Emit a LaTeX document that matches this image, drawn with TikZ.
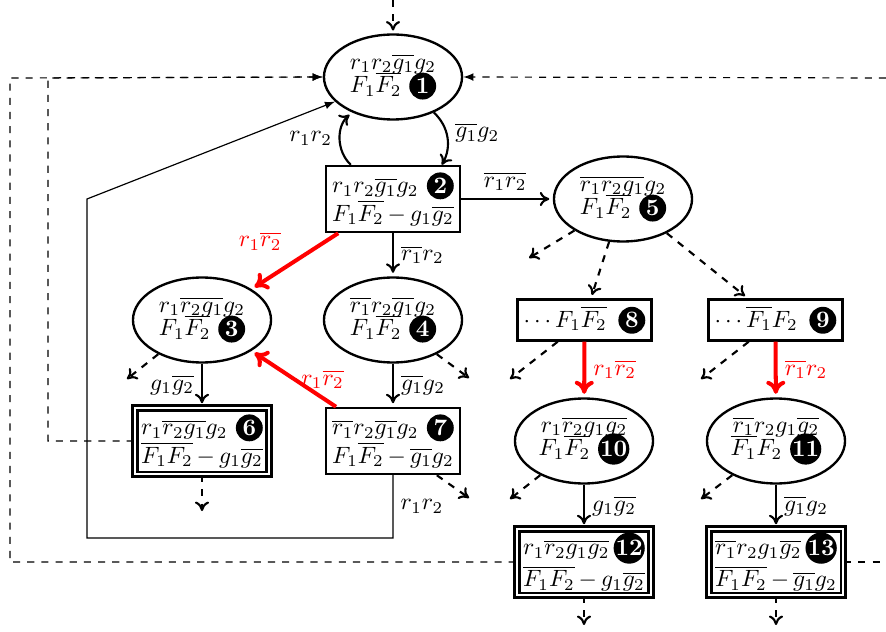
\documentclass[tikz,border=0pt]{standalone}
\usepackage{amsmath}
\usepackage{amssymb}
\usetikzlibrary{arrows.meta,shapes.geometric}
\newcommand{\badge}[1]{\tikz[baseline=-2.9pt]\node[circle,fill=black,text=white,inner sep=0pt,minimum size=11.4pt,font=\bfseries] (b#1) {#1};}
\tikzset{
  ellnode/.style={ellipse,draw,line width=1pt,inner sep=0pt,minimum width=58.5pt,minimum height=36pt,align=center},
  boxnode/.style={rectangle,draw,line width=1pt,inner sep=0pt,minimum width=56.8pt,minimum height=28pt,text width=51.5pt,align=left},
  dblnode/.style={boxnode,double,double distance=1pt},
  arr/.style={-{Computer Modern Rightarrow[length=4pt,width=6pt]},line width=0.9pt,shorten >=1.5pt},
  redarr/.style={-{Computer Modern Rightarrow[length=5.5pt,width=8pt]},line width=1.7pt,red,shorten >=1.5pt},
  dasharr/.style={arr,dashed,shorten >=0pt},
  thinline/.style={line width=0.5pt},
  backarr/.style={thinline,-latex,dashed},
  lbl/.style={inner sep=3pt}
}
\begin{document}
\begin{tikzpicture}[x=0.4237pt,y=-0.4237pt]
  \useasboundingbox (0,0) rectangle (886,632);
  % states
  \node[ellnode] (n1) at (393,77) {$r_1r_2\overline{g_1}g_2$\\[-2pt]$F_1\overline{F_2}$ \badge{1}};
  \node[boxnode] (n2) at (393,199) {$r_1r_2\overline{g_1}g_2$\hfill\badge{2}\\$F_1\overline{F_2}-g_1\overline{g_2}$};
  \node[ellnode] (n3) at (202,320) {$r_1\overline{r_2g_1}g_2$\\[-2pt]$F_1\overline{F_2}$ \badge{3}};
  \node[ellnode] (n4) at (393,320) {$\overline{r_1}r_2\overline{g_1}g_2$\\[-2pt]$F_1\overline{F_2}$ \badge{4}};
  \node[ellnode] (n5) at (623,199) {$\overline{r_1r_2g_1}g_2$\\[-2pt]$F_1\overline{F_2}$ \badge{5}};
  \node[dblnode] (n6) at (202,441) {$r_1\overline{r_2g_1}g_2$\hfill\badge{6}\\$\overline{F_1F_2}-g_1\overline{g_2}$};
  \node[boxnode] (n7) at (393,441) {$\overline{r_1}r_2\overline{g_1}g_2$\hfill\badge{7}\\$F_1\overline{F_2}-\overline{g_1}g_2$};
  \node[boxnode,minimum height=17.4pt] (n8) at (584.5,320) {$\cdots F_1\overline{F_2}$\hfill\badge{8}};
  \node[boxnode,minimum height=17.4pt] (n9) at (775.5,320) {$\cdots\overline{F_1}F_2$\hfill\badge{9}};
  \node[ellnode] (n10) at (584,441) {$r_1\overline{r_2g_1g_2}$\\[-2pt]$F_1\overline{F_2}$ \badge{10}};
  \node[ellnode] (n11) at (776,441) {$\overline{r_1}r_2g_1\overline{g_2}$\\[-2pt]$\overline{F_1}F_2$ \badge{11}};
  \node[dblnode] (n12) at (584,562) {$r_1\overline{r_2g_1g_2}$\hfill\badge{12}\\$\overline{F_1F_2}-g_1\overline{g_2}$};
  \node[dblnode] (n13) at (776,562) {$\overline{r_1}r_2g_1\overline{g_2}$\hfill\badge{13}\\$\overline{F_1F_2}-\overline{g_1}g_2$};
  % free ends
  \coordinate (top) at (393,0);
  \coordinate (outerl) at (10,562);
  \coordinate (outerm) at (10,78);
  \coordinate (innerl) at (48,441);
  \coordinate (innerm) at (48,78);
  \coordinate (rightb) at (886,562);
  \coordinate (rightt) at (886,78);
  \coordinate (loopa) at (87,538);
  \coordinate (loopb) at (87,199);
  % solid transitions
  \draw[arr,shorten >=0pt] (n1.-41) to[bend left=38] node[lbl,right,yshift=2pt] {$\overline{g_1}g_2$} (n2.35);
  \draw[arr] (n2.141) to[bend left=48] node[lbl,left,pos=0.5] {$r_1r_2$} (n1.221);
  \draw[arr] (n2) -- node[lbl,above,pos=0.48] {$\overline{r_1r_2}$} (n5);
  \draw[arr] (n2) -- node[lbl,right] {$\overline{r_1}r_2$} (n4);
  \draw[arr] (n3) -- node[lbl,left] {$g_1\overline{g_2}$} (n6);
  \draw[arr] (n4) -- node[lbl,right] {$\overline{g_1}g_2$} (n7);
  \draw[arr] (n10) -- node[lbl,right] {$g_1\overline{g_2}$} (n12);
  \draw[arr] (n11) -- node[lbl,right] {$\overline{g_1}g_2$} (n13);
  % red transitions
  \draw[redarr] (n2.212) -- node[lbl,pos=0.55,above left,yshift=2pt] {$r_1\overline{r_2}$} (n3.32);
  \draw[redarr] (n7.149) -- node[lbl,pos=0.16,above,yshift=0pt] {$r_1\overline{r_2}$} (n3.-32);
  \draw[redarr] (n8) -- node[lbl,right] {$r_1\overline{r_2}$} (n10);
  \draw[redarr] (n9) -- node[lbl,right] {$\overline{r_1}r_2$} (n11);
  % return paths
  \draw[thinline,-latex] (n7.south) -- node[lbl,right,pos=0.5] {$r_1r_2$} (n7.south |- loopa) -- (loopa) -- (loopb) -- (n1.203);
  \draw[backarr] (n12.west) -- (outerl) -- (outerm) -- (n1.west);
  \draw[backarr] (n6.west) -- (innerl) -- (innerm) -- (n1.west);
  \draw[backarr] (rightt) -- (n1.east);
  \draw[thinline,dashed] (n13.east) -- (rightb);
  % dashed stubs
  \draw[dasharr,shorten >=1.2pt] (top) -- (n1.north);
  \foreach \src/\ang/\x/\y [count=\i] in
    {n3/218/127/379, n4/-38/469/378, n7/-38/469/498, n5/213/529/258,
     n5/252/592/295, n5/-38/745/296, n8/219/510/379, n9/219/701/379,
     n10/218/510/499, n11/218/701/499, n6/-90/202/511, n12/-90/584/625,
     n13/-90/776/625}
    {\coordinate (free\i) at (\x,\y);
     \draw[dasharr] (\src.\ang) -- (free\i);}
\end{tikzpicture}
\end{document}
